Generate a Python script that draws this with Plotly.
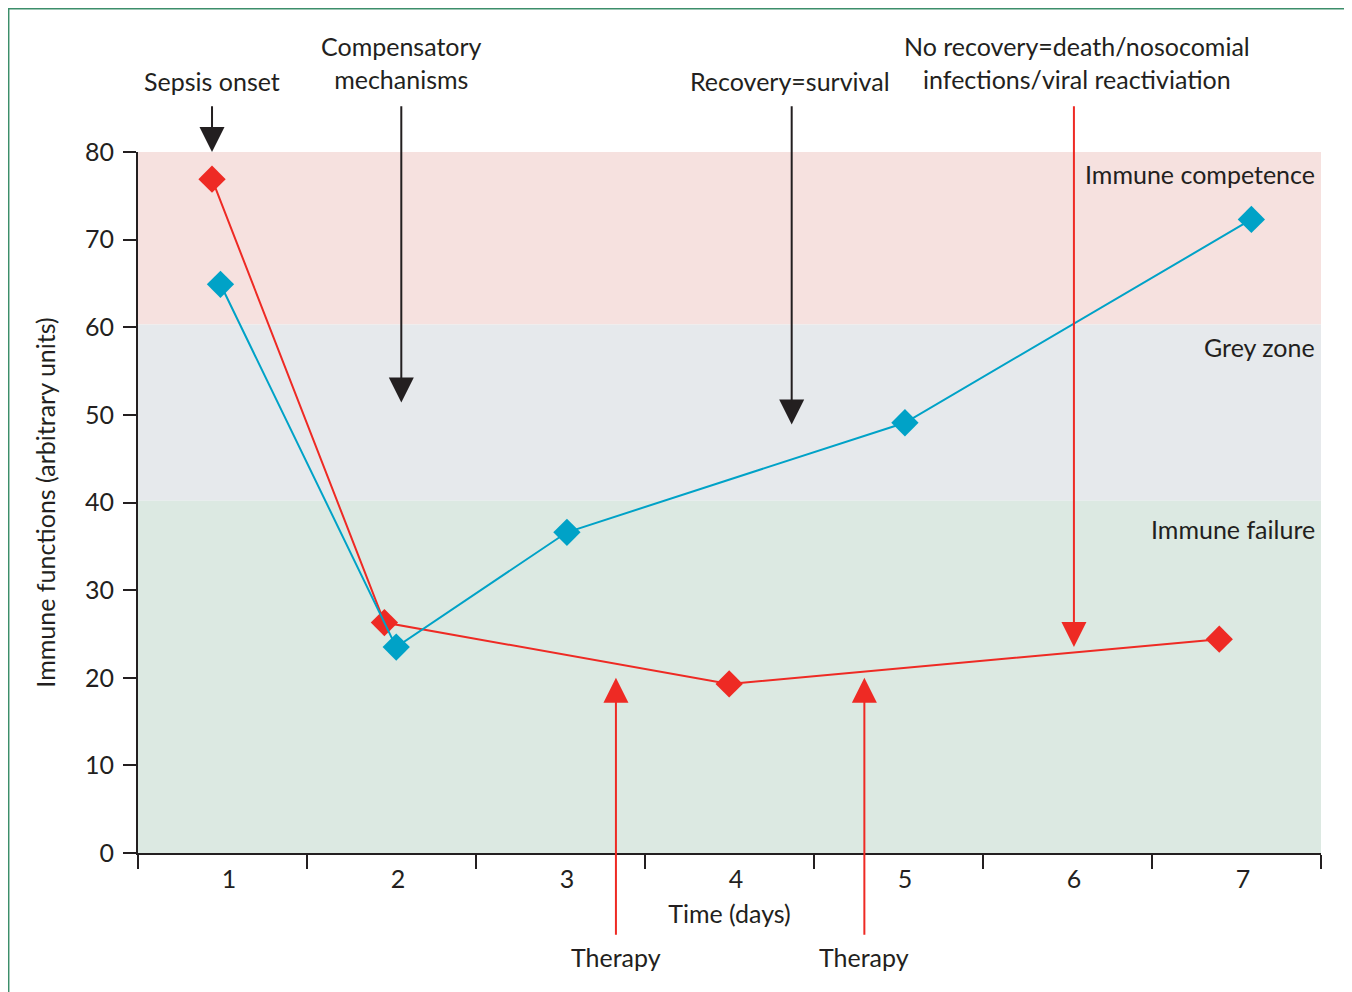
import plotly.graph_objects as go

# ---- data ----
days_red = [0.90, 1.92, 3.96, 6.86]
immune_red = [76.9, 26.3, 19.3, 24.4]

days_blue = [0.95, 1.99, 3.00, 5.00, 7.05]
immune_blue = [64.9, 23.5, 36.6, 49.1, 72.3]

x_tick_vals = [1, 2, 3, 4, 5, 6, 7]
x_tick_text = ["1", "2", "3", "4", "5", "6", "7"]
y_tick_vals = [0, 10, 20, 30, 40, 50, 60, 70, 80]

zone_names = ["Immune competence", "Grey zone", "Immune failure"]
zone_low = [60.3, 40.2, 0]
zone_high = [80, 60.3, 40.2]
zone_colors = ["#F6E1DF", "#E6E9EC", "#DCE9E2"]
zone_label_y = [77.5, 57.8, 37.0]

# arrows: x, tail y, tip y, colour (data units)
arrow_x = [0.90, 2.02, 4.33, 6.00, 3.29, 4.76]
arrow_tail = [85.4, 85.4, 85.4, 85.4, -9.5, -9.5]
arrow_tip = [80.0, 51.4, 48.9, 23.5, 20.0, 20.0]
arrow_color = ["#231F20", "#231F20", "#231F20", "#EE2A24", "#EE2A24", "#EE2A24"]

# text labels outside the plot (paper y)
top_labels = ["Sepsis onset", "Compensatory<br>mechanisms", "Recovery=survival",
              "No recovery=death/nosocomial<br>infections/viral reactiviation"]
top_label_x = [0.90, 2.02, 4.32, 6.02]
top_label_y = [1.1015, 1.127, 1.1015, 1.127]

bottom_labels = ["Therapy", "Therapy"]
bottom_label_x = [3.29, 4.76]
bottom_label_y = [-0.149, -0.149]

RED = "#EE2A24"
BLUE = "#00A2C7"
TXT = "#231F20"
FONT = "Lato"
FS = 25

fig = go.Figure()

fig.add_trace(go.Scatter(
    x=days_red, y=immune_red, mode="lines+markers",
    line=dict(color=RED, width=2),
    marker=dict(symbol="diamond", size=21, color=RED),
    showlegend=False, cliponaxis=False))
fig.add_trace(go.Scatter(
    x=days_blue, y=immune_blue, mode="lines+markers",
    line=dict(color=BLUE, width=2),
    marker=dict(symbol="diamond", size=21, color=BLUE),
    showlegend=False, cliponaxis=False))

shapes = []
for lo, hi, c in zip(zone_low, zone_high, zone_colors):
    shapes.append(dict(type="rect", xref="paper", yref="y", x0=0, x1=1, y0=lo, y1=hi,
                       fillcolor=c, line=dict(width=0), layer="below"))
# outer frame
shapes.append(dict(type="rect", xref="paper", yref="paper", x0=-0.1093, x1=1.0245,
                   y0=-0.3, y1=1.2042, line=dict(color="#3C8E6A", width=1.5),
                   fillcolor="rgba(0,0,0,0)", layer="above"))

annotations = []
for name, yy in zip(zone_names, zone_label_y):
    annotations.append(dict(text=name, xref="paper", yref="y", x=0.997, y=yy,
                            xanchor="right", yanchor="middle", showarrow=False,
                            font=dict(family=FONT, size=FS, color=TXT)))
for ax_, t, tip, c in zip(arrow_x, arrow_tail, arrow_tip, arrow_color):
    annotations.append(dict(text="", x=ax_, y=tip, ax=ax_, ay=t, xref="x", yref="y",
                            axref="x", ayref="y", showarrow=True, arrowhead=2,
                            arrowsize=2.5, arrowwidth=2, arrowcolor=c, standoff=0,
                            startstandoff=0))
for t, xx, yy in zip(top_labels, top_label_x, top_label_y):
    annotations.append(dict(text=t, x=xx, y=yy, xref="x", yref="paper", showarrow=False,
                            xanchor="center", yanchor="middle",
                            font=dict(family=FONT, size=FS, color=TXT)))
for t, xx, yy in zip(bottom_labels, bottom_label_x, bottom_label_y):
    annotations.append(dict(text=t, x=xx, y=yy, xref="x", yref="paper", showarrow=False,
                            xanchor="center", yanchor="middle",
                            font=dict(family=FONT, size=FS, color=TXT)))

fig.update_layout(
    width=1344, height=984,
    margin=dict(l=130, r=31, t=144, b=138.5),
    paper_bgcolor="white", plot_bgcolor="white",
    font=dict(family=FONT, size=FS, color=TXT),
    shapes=shapes, annotations=annotations,
    xaxis=dict(range=[0.462, 7.462], tickmode="array", tickvals=x_tick_vals,
               ticktext=x_tick_text, ticks="outside", ticklen=3,
               tickcolor="rgba(0,0,0,0)", showgrid=False, zeroline=False,
               showline=True, linecolor=TXT, linewidth=2,
               minor=dict(tick0=0.462, dtick=1, ticks="outside", ticklen=14,
                          tickwidth=2, tickcolor=TXT, showgrid=False),
               title=dict(text="Time (days)", standoff=13,
                          font=dict(family=FONT, size=FS, color=TXT)),
               tickfont=dict(family=FONT, size=FS, color=TXT)),
    yaxis=dict(range=[0, 80], tickmode="array", tickvals=y_tick_vals,
               ticks="outside", ticklen=13, tickwidth=2, tickcolor=TXT,
               showgrid=False, zeroline=False, showline=True, linecolor=TXT,
               linewidth=2, ticklabelstandoff=4,
               title=dict(text="Immune functions (arbitrary units)", standoff=22,
                          font=dict(family=FONT, size=FS, color=TXT)),
               tickfont=dict(family=FONT, size=FS, color=TXT)),
)

fig.write_html("out.html")
